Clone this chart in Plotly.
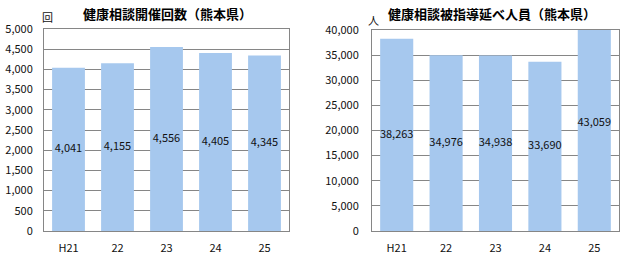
import plotly.graph_objects as go

categories = ["H21", "22", "23", "24", "25"]
sessions = [4041, 4155, 4556, 4405, 4345]
persons = [38263, 34976, 34938, 33690, 43059]

left_title = "健康相談開催回数（熊本県）"
right_title = "健康相談被指導延べ人員（熊本県）"
left_unit = "回"
right_unit = "人"

BAR = "#A6C8EE"
GRID = "#868686"
FONT = "Noto Sans CJK JP"

fig = go.Figure()

fig.add_trace(go.Bar(x=categories, y=sessions, marker_color=BAR, marker_line_width=0,
                     xaxis="x", yaxis="y", hoverinfo="skip"))
fig.add_trace(go.Scatter(x=categories, y=[v / 2 for v in sessions], mode="text",
                         text=[f"{v:,}" for v in sessions], textfont=dict(size=11, color="#111"),
                         xaxis="x", yaxis="y", hoverinfo="skip", cliponaxis=False))
fig.add_trace(go.Bar(x=categories, y=persons, marker_color=BAR, marker_line_width=0,
                     xaxis="x2", yaxis="y2", hoverinfo="skip"))
fig.add_trace(go.Scatter(x=categories, y=[v / 2 for v in persons], mode="text",
                         text=[f"{v:,}" for v in persons], textfont=dict(size=11, color="#111"),
                         xaxis="x2", yaxis="y2", hoverinfo="skip", cliponaxis=False))

common_x = dict(showline=True, linecolor=GRID, linewidth=1, mirror=True, showgrid=False,
                ticks="", tickfont=dict(size=11, color="#111"), ticklabelstandoff=7,
                fixedrange=True, automargin=False)
common_y = dict(showline=True, linecolor=GRID, linewidth=1, mirror=True, showgrid=True,
                gridcolor=GRID, gridwidth=1, ticks="", tickfont=dict(size=11, color="#111"),
                zeroline=False, tickformat=",d", fixedrange=True, automargin=False)

fig.update_layout(
    width=634, height=256, margin=dict(l=0, r=0, t=0, b=0),
    paper_bgcolor="white", plot_bgcolor="white", showlegend=False,
    font=dict(family=FONT, size=11, color="#111"),
    bargap=0.33,
    xaxis=dict(domain=[44 / 634, 289 / 634], anchor="y", **common_x),
    yaxis=dict(domain=[25 / 256, 227 / 256], anchor="x", range=[0, 5000], dtick=500,
               ticklabelstandoff=8, **common_y),
    xaxis2=dict(domain=[372 / 634, 619 / 634], anchor="y2", **common_x),
    yaxis2=dict(domain=[25 / 256, 226 / 256], anchor="x2", range=[0, 40000], dtick=5000,
                ticklabelstandoff=10, **common_y),
    annotations=[
        dict(text=f"<b>{left_title}</b>", x=167 / 634, y=1 - 13 / 256, xref="paper", yref="paper",
             showarrow=False, font=dict(size=13, color="#000"), xanchor="center", yanchor="middle"),
        dict(text=f"<b>{right_title}</b>", x=492 / 634, y=1 - 13 / 256, xref="paper", yref="paper",
             showarrow=False, font=dict(size=13, color="#000"), xanchor="center", yanchor="middle"),
        dict(text=left_unit, x=47 / 634, y=1 - 17 / 256, xref="paper", yref="paper",
             showarrow=False, font=dict(size=11, color="#111"), xanchor="center", yanchor="middle"),
        dict(text=right_unit, x=373 / 634, y=1 - 20 / 256, xref="paper", yref="paper",
             showarrow=False, font=dict(size=11, color="#111"), xanchor="center", yanchor="middle"),
    ],
)

fig.write_html("out.html")
